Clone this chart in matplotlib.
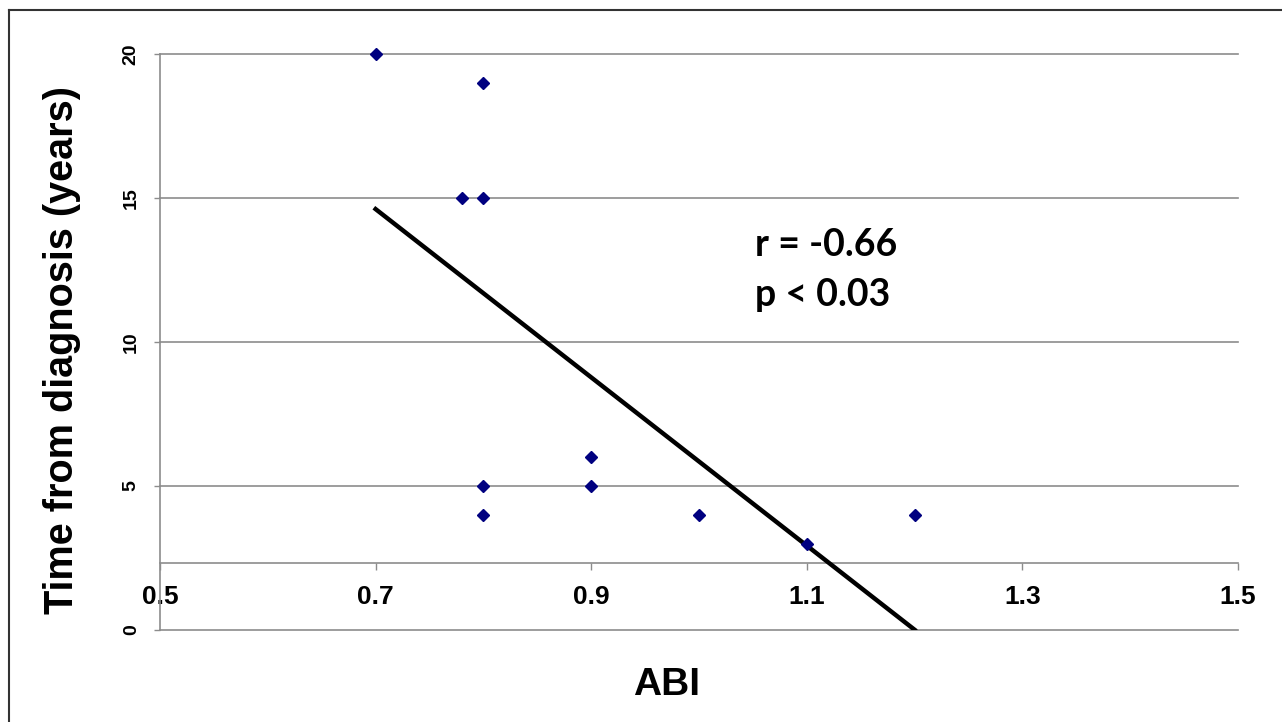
import numpy as np
import matplotlib
matplotlib.use("Agg")
import matplotlib.pyplot as plt
from matplotlib.lines import Line2D

# data
abi = [0.7, 0.8, 0.78, 0.8, 0.8, 0.8, 0.9, 0.9, 1.0, 1.1, 1.2]
years = [20, 19, 15, 15, 5, 4, 6, 5, 4, 3, 4]
x_ticks = [0.5, 0.7, 0.9, 1.1, 1.3, 1.5]
y_ticks = [0, 5, 10, 15, 20]
x_cross = 2.33  # where the horizontal axis crosses
stats_text = "r = -0.66\np < 0.03"

fig = plt.figure(figsize=(12.82, 7.22), dpi=100)
ax = fig.add_axes([160/1282, 92/722, 1078/1282, 576/722])

grey = "#8c8c8c"
ax.set_xlim(0.5, 1.5)
ax.set_ylim(0, 20)
for y in y_ticks:
    ax.axhline(y, color=grey, lw=1.2, zorder=1, clip_on=False)

ax.plot(abi, years, "D", color="#000080", markersize=6, zorder=4, clip_on=False)

# linear trend line over the data range
slope, icept = np.polyfit(abi, years, 1)
xt = np.array([min(abi), max(abi)])
ax.plot(xt, slope*xt + icept, color="black", lw=3.2, zorder=3)

for s in ["top", "right"]:
    ax.spines[s].set_visible(False)
ax.spines["left"].set_color(grey)
ax.spines["left"].set_linewidth(1.2)
ax.spines["bottom"].set_position(("data", x_cross))
ax.spines["bottom"].set_color(grey)
ax.spines["bottom"].set_linewidth(1.2)

ax.set_xticks(x_ticks)
ax.set_xticklabels([str(v) for v in x_ticks], fontsize=19, fontweight="bold",
                   family="Liberation Sans")
ax.set_yticks(y_ticks)
ax.set_yticklabels([str(v) for v in y_ticks], fontsize=14, fontweight="bold",
                   family="Liberation Sans", rotation=90, va="center")
ax.tick_params(axis="x", direction="out", length=5, width=1, color=grey, pad=11)
ax.tick_params(axis="y", direction="out", length=4.5, width=1, color=grey, pad=10)

fig.text(62/1282, 1 - 350/722, "Time from diagnosis (years)", rotation=90,
         ha="center", va="center", fontsize=28.5, fontweight="bold",
         family="Liberation Sans")
fig.text(667/1282, 1 - 685/722, "ABI", ha="center", va="center",
         fontsize=28, fontweight="bold", family="Liberation Sans")

ax.text(1.052, 12.5, stats_text, ha="left", va="center", fontsize=27,
        fontweight="bold", family="Lato", linespacing=1.6)

# figure border (top and left visible)
fig.add_artist(Line2D([9/1282, 1], [1 - 9.5/722]*2, color="#333333", lw=1.5))
fig.add_artist(Line2D([9/1282]*2, [0, 1 - 9.5/722], color="#333333", lw=1.5))

fig.savefig("out.png", dpi=100)
